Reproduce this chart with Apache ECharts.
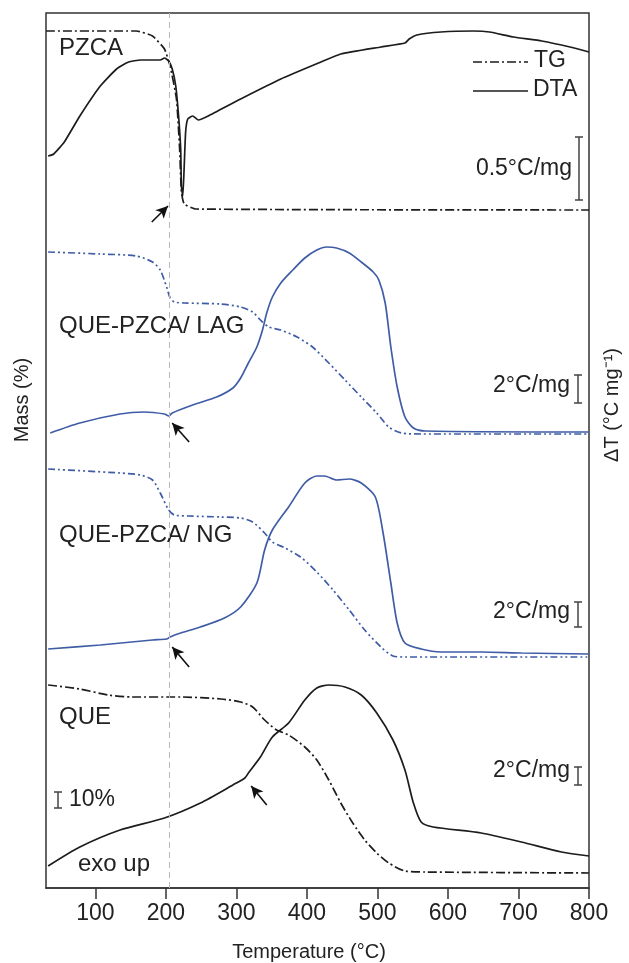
<!DOCTYPE html>
<html>
<head>
<meta charset="utf-8">
<script src="https://cdn.jsdelivr.net/npm/echarts@6/dist/echarts.min.js"></script>
<style>
  html, body { margin: 0; padding: 0; background: #fff; }
  #chart { width: 629px; height: 963px; }
</style>
</head>
<body>
<div id="chart"></div>
<script>
// temperature ticks
const tempTicks = [100, 200, 300, 400, 500, 600, 700, 800];

// curves: temperature (°C) and vertical position (stacked offset units, 0 = bottom frame)
const pzcaTgT = [30, 158, 181, 198, 206, 215, 219.5, 222, 226, 243, 800];
const pzcaTgV = [857, 857, 852, 839, 822, 789, 739, 696, 684, 679, 678];
const pzcaDtaT = [33, 41, 56, 78, 107, 130, 147, 164, 192, 198, 204, 209, 214, 218, 221, 222, 224, 226, 228, 231, 238, 246, 260, 306, 363, 420, 448, 505, 539, 545, 556, 590, 636, 659, 693, 733, 773, 800];
const pzcaDtaV = [732, 734, 746, 772, 802, 819, 826, 828, 828, 830, 827, 819, 802, 772, 739, 702, 692, 722, 756, 769, 772, 768, 772, 789, 809, 826, 834, 841, 845, 849, 853, 856, 857, 856, 851, 847, 841, 836];

const lagTgT = [33, 107, 158, 181, 192, 201, 206, 212, 226, 278, 306, 323, 334, 346, 363, 386, 408, 431, 454, 477, 499, 516, 534, 562, 800];
const lagTgV = [636, 634, 632, 626, 618, 601, 590, 586, 585, 584, 581, 576, 568, 561, 558, 551, 541, 525, 508, 491, 475, 461, 455, 454, 454];
const lagDtaT = [36, 78, 135, 169, 198, 204, 209, 238, 272, 295, 306, 317, 329, 337, 343, 351, 363, 380, 397, 414, 428, 442, 460, 477, 494, 502, 511, 519, 528, 539, 551, 568, 800];
const lagDtaV = [455, 465, 474, 476, 474, 472, 475, 483, 491, 500, 510, 525, 541, 558, 575, 591, 605, 618, 630, 638, 641, 640, 635, 626, 616, 608, 585, 541, 501, 471, 460, 457, 456];

const ngTgT = [33, 135, 164, 181, 192, 204, 212, 232, 278, 306, 323, 340, 351, 369, 391, 414, 437, 460, 482, 505, 522, 539, 800];
const ngTgV = [419, 415, 413, 408, 395, 378, 373, 372, 371, 370, 366, 355, 346, 340, 331, 316, 298, 278, 258, 241, 232, 231, 231];
const ngDtaT = [33, 107, 181, 201, 206, 221, 249, 283, 306, 329, 340, 351, 374, 397, 414, 425, 442, 460, 477, 497, 508, 519, 528, 539, 562, 590, 647, 704, 800];
const ngDtaV = [239, 243, 248, 249, 251, 255, 261, 270, 281, 305, 338, 358, 381, 405, 412, 412, 408, 409, 405, 391, 355, 305, 265, 245, 239, 236, 236, 235, 234];

const queTgT = [33, 78, 118, 152, 221, 278, 306, 323, 340, 357, 374, 397, 414, 431, 448, 465, 482, 499, 516, 539, 568, 800];
const queTgV = [203, 199, 193, 191, 191, 189, 186, 181, 168, 158, 153, 141, 128, 108, 85, 65, 48, 35, 25, 17, 16, 15];
const queDtaT = [33, 78, 135, 198, 249, 295, 312, 317, 334, 351, 374, 397, 414, 431, 454, 477, 499, 522, 539, 551, 562, 579, 647, 704, 761, 800];
const queDtaV = [22, 41, 58, 70, 85, 103, 110, 115, 131, 151, 165, 188, 200, 203, 201, 193, 175, 148, 118, 85, 66, 61, 55, 46, 36, 32];

// arrows: [tailT, tailV, headT, headV]
const arrows = [
  [180, 666, 203, 682],
  [233, 446, 209, 465],
  [233, 221, 209, 241],
  [343, 83, 321, 102]
];
const onsetT = 205;

const zip = (xs, ys) => xs.map((x, i) => [x, ys[i]]);

const BLACK = '#1c1c1c';
const BLUE = '#3f5ca6';
const FONT = 'Liberation Sans, Arial, sans-serif';
const dashDot = [9, 3, 2, 3];
const dashDotDot = [7, 3, 2, 3, 2, 3];

function line(name, xs, ys, color, type, extra) {
  return Object.assign({
    name: name,
    type: 'line',
    data: zip(xs, ys),
    showSymbol: false,
    symbol: 'none',
    smooth: 0.25,
    silent: true,
    lineStyle: { color: color, width: 1.7, type: type },
    itemStyle: { color: color },
    z: 3
  }, extra || {});
}

function ibar(x, y1, y2) {
  return {
    type: 'polyline',
    shape: { points: [[x - 4, y1], [x + 4, y1], [x, y1], [x, y2], [x - 4, y2], [x + 4, y2]] },
    style: { stroke: '#444', lineWidth: 1.5, fill: null }
  };
}

function label(text, left, top, size) {
  return { type: 'text', left: left, top: top, style: { text: text, fontSize: size || 24, fontFamily: FONT, fill: '#222' } };
}

function rlabel(text, right, top) {
  return { type: 'text', right: right, top: top, style: { text: text, fontSize: 23, fontFamily: FONT, fill: '#222' } };
}

const chart = echarts.init(document.getElementById('chart'), null, { renderer: 'canvas' });

const option = {
  animation: false,
  backgroundColor: '#fff',
  grid: { left: 46, right: 40, top: 13, bottom: 75, show: true, borderColor: '#333', borderWidth: 1.5, backgroundColor: 'transparent' },
  xAxis: {
    type: 'value',
    min: 30,
    max: 800,
    splitLine: { show: false },
    axisLine: { show: true, lineStyle: { color: '#333', width: 1.5 } },
    axisTick: { show: true, length: 11, customValues: tempTicks, lineStyle: { color: '#333', width: 1.5 } },
    axisLabel: { customValues: tempTicks, fontSize: 23, fontFamily: FONT, color: '#222', margin: 14 }
  },
  yAxis: {
    type: 'value',
    min: 0,
    max: 875,
    axisLine: { show: false },
    axisTick: { show: false },
    axisLabel: { show: false },
    splitLine: { show: false }
  },
  series: [
    line('PZCA TG', pzcaTgT, pzcaTgV, BLACK, dashDot, {
      smooth: 0.15,
      markLine: {
        silent: true,
        symbol: 'none',
        label: { show: false },
        lineStyle: { color: '#b8b8b8', width: 1, type: [6, 4] },
        data: [{ xAxis: onsetT }]
      }
    }),
    line('PZCA DTA', pzcaDtaT, pzcaDtaV, BLACK, 'solid', { smooth: 0.15 }),
    line('LAG TG', lagTgT, lagTgV, BLUE, dashDotDot),
    line('LAG DTA', lagDtaT, lagDtaV, BLUE, 'solid'),
    line('NG TG', ngTgT, ngTgV, BLUE, dashDotDot),
    line('NG DTA', ngDtaT, ngDtaV, BLUE, 'solid'),
    line('QUE TG', queTgT, queTgV, BLACK, dashDot),
    line('QUE DTA', queDtaT, queDtaV, BLACK, 'solid', {
      markLine: {
        silent: true,
        symbol: ['none', 'arrow'],
        symbolSize: [9, 12],
        label: { show: false },
        lineStyle: { color: '#111', width: 1.6, type: 'solid' },
        data: arrows.map(a => [{ coord: [a[0], a[1]] }, { coord: [a[2], a[3]] }])
      }
    })
  ],
  graphic: [
    label('PZCA', 59, 36),
    label('QUE-PZCA/ LAG', 59, 314),
    label('QUE-PZCA/ NG', 59, 523),
    label('QUE', 59, 705),
    label('10%', 69, 788, 23),
    label('exo up', 78, 852),
    rlabel('0.5°C/mg', 57, 157),
    rlabel('2°C/mg', 59, 374),
    rlabel('2°C/mg', 59, 600),
    rlabel('2°C/mg', 59, 759),
    // legend
    { type: 'line', shape: { x1: 473, y1: 62, x2: 528, y2: 62 }, style: { stroke: BLACK, lineWidth: 1.7, lineDash: dashDot } },
    { type: 'text', left: 534, top: 49, style: { text: 'TG', fontSize: 23, fontFamily: FONT, fill: '#222' } },
    { type: 'line', shape: { x1: 473, y1: 91, x2: 528, y2: 91 }, style: { stroke: BLACK, lineWidth: 1.7 } },
    { type: 'text', left: 533, top: 78, style: { text: 'DTA', fontSize: 23, fontFamily: FONT, fill: '#222' } },
    // scale bars
    ibar(579, 137, 200),
    ibar(578, 375, 403),
    ibar(578, 602, 627),
    ibar(578, 767, 785),
    ibar(58, 792, 808),
    // axis titles
    { type: 'text', x: 309, y: 952, style: { text: 'Temperature (°C)', fontSize: 20, fontFamily: FONT, fill: '#222', textAlign: 'center', textVerticalAlign: 'middle' } },
    { type: 'text', x: 22, y: 400, rotation: Math.PI / 2, style: { text: 'Mass (%)', fontSize: 20, fontFamily: FONT, fill: '#222', textAlign: 'center', textVerticalAlign: 'middle' } },
    { type: 'text', x: 612, y: 405, rotation: Math.PI / 2, style: { text: 'ΔT (°C mg⁻¹)', fontSize: 20, fontFamily: FONT, fill: '#222', textAlign: 'center', textVerticalAlign: 'middle' } }
  ]
};

chart.setOption(option);
</script>
</body>
</html>
